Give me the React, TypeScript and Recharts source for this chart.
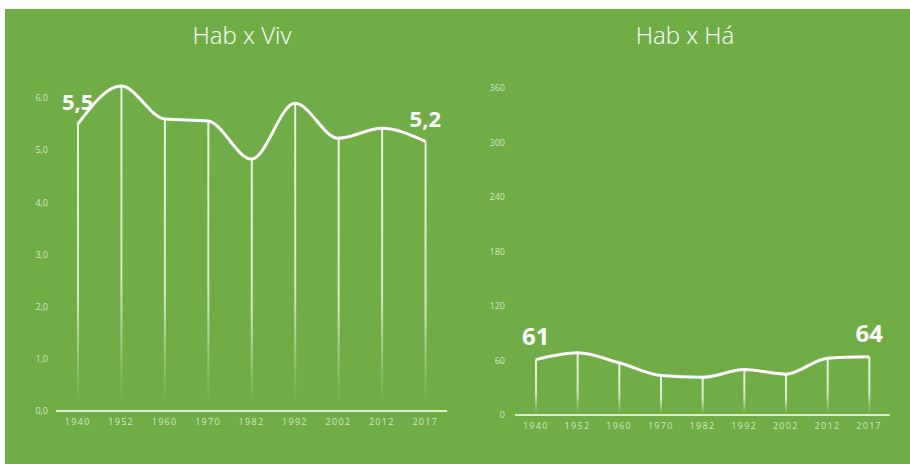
import React from 'react';
import { ComposedChart, Line, Bar, XAxis, YAxis, LabelList } from 'recharts';

const years = ['1940', '1952', '1960', '1970', '1982', '1992', '2002', '2012', '2017'];
const habViv = [5.5, 6.23, 5.6, 5.56, 4.83, 5.9, 5.23, 5.42, 5.17];
const habHa = [61, 68.5, 57.5, 43.5, 41.5, 50, 45, 62.5, 64];
const leftTicks = [0, 1, 2, 3, 4, 5, 6];
const rightTicks = [0, 60, 120, 180, 240, 300, 360];

const leftData = years.map((y, i) => ({ year: y, v: habViv[i] }));
const rightData = years.map((y, i) => ({ year: y, v: habHa[i] }));

const GREEN = '#70AD47';
const FONT = '"Open Sans", "Noto Sans", sans-serif';
const TICK_COLOR = 'rgba(255,255,255,0.72)';

const makeEndLabel = (fmt: (v: number) => string, size: number, lift: number, last: number) =>
  (props: any) => {
    const { x, y, value, index } = props;
    if (index !== 0 && index !== last) return null;
    return (
      <text x={x} y={y - lift} textAnchor="middle" fill="#fff" fontSize={size} fontWeight={700} fontFamily={FONT}>
        {fmt(value)}
      </text>
    );
  };

const GradientDefs = ({ id }: { id: string }) => (
  <defs>
    <linearGradient id={id} x1="0" y1="0" x2="0" y2="1">
      <stop offset="0" stopColor="#fff" stopOpacity={0.85} />
      <stop offset="0.6" stopColor="#fff" stopOpacity={0.7} />
      <stop offset="0.97" stopColor="#fff" stopOpacity={0} />
      <stop offset="1" stopColor="#fff" stopOpacity={0} />
    </linearGradient>
  </defs>
);

const Title = ({ text, cx }: { text: string; cx: number }) => (
  <div
    style={{
      position: 'absolute',
      left: cx - 150,
      width: 300,
      top: 19,
      textAlign: 'center',
      color: '#fff',
      fontFamily: FONT,
      fontWeight: 300,
      fontSize: 24,
      lineHeight: '32px',
    }}
  >
    {text}
  </div>
);

export default function App() {
  const fmtLeft = (v: number) => v.toFixed(1).replace('.', ',');
  const fmtRight = (v: number) => String(Math.round(v));
  return (
    <div style={{ position: 'absolute', left: 0, top: 0, width: 910, height: 464, background: '#fff', fontFamily: FONT }}>
      <div style={{ position: 'absolute', left: 5, top: 9, width: 905, height: 455, background: GREEN }} />
      <Title text="Hab x Viv" cx={242} />
      <Title text="Hab x Há" cx={685} />

      <div style={{ position: 'absolute', left: 0, top: 0 }}>
        <ComposedChart width={455} height={464} data={leftData} margin={{ top: 72, right: 8, bottom: 23, left: 16 }}>
          <GradientDefs id="dropL" />
          <XAxis
            dataKey="year"
            axisLine={{ stroke: '#fff', strokeWidth: 1.5 }}
            tickLine={false}
            tick={{ fill: TICK_COLOR, fontSize: 9, letterSpacing: 1.3, fontFamily: FONT }}
            height={30}
            interval={0}
          />
          <YAxis
            domain={[0, 6.5]}
            ticks={leftTicks}
            tickFormatter={fmtLeft}
            axisLine={false}
            tickLine={false}
            width={40}
            tick={{ fill: TICK_COLOR, fontSize: 9, fontFamily: FONT }}
          />
          <Bar dataKey="v" barSize={2} fill="url(#dropL)" isAnimationActive={false} />
          <Line
            dataKey="v"
            type="monotone"
            stroke="#fff"
            strokeWidth={3}
            dot={false}
            activeDot={false}
            isAnimationActive={false}
          >
            <LabelList dataKey="v" content={makeEndLabel(fmtLeft, 22, 14, years.length - 1)} />
          </Line>
        </ComposedChart>
      </div>

      <div style={{ position: 'absolute', left: 455, top: 0 }}>
        <ComposedChart width={455} height={464} data={rightData} margin={{ top: 88, right: 20, bottom: 19, left: 20 }}>
          <GradientDefs id="dropR" />
          <XAxis
            dataKey="year"
            axisLine={{ stroke: '#fff', strokeWidth: 1.5 }}
            tickLine={false}
            tick={{ fill: TICK_COLOR, fontSize: 9, letterSpacing: 1.3, fontFamily: FONT }}
            height={30}
            interval={0}
          />
          <YAxis
            domain={[0, 360]}
            ticks={rightTicks}
            tickFormatter={fmtRight}
            axisLine={false}
            tickLine={false}
            width={40}
            tickMargin={4}
            tick={{ fill: TICK_COLOR, fontSize: 9, fontFamily: FONT }}
          />
          <Bar dataKey="v" barSize={2} fill="url(#dropR)" isAnimationActive={false} />
          <Line
            dataKey="v"
            type="monotone"
            stroke="#fff"
            strokeWidth={3}
            dot={false}
            activeDot={false}
            isAnimationActive={false}
          >
            <LabelList dataKey="v" content={makeEndLabel(fmtRight, 24, 15, years.length - 1)} />
          </Line>
        </ComposedChart>
      </div>
    </div>
  );
}
